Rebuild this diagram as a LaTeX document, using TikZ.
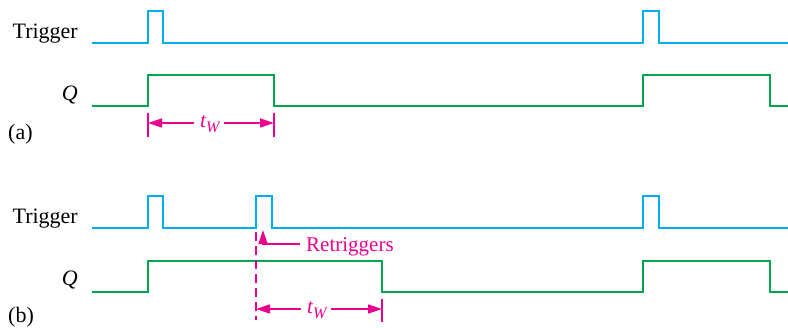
\documentclass[tikz,border=0pt]{standalone}
\usepackage{fontspec}
\setmainfont{Liberation Serif}
\usetikzlibrary{arrows.meta}
\definecolor{trigblue}{RGB}{0,174,239}
\definecolor{qgreen}{RGB}{0,163,80}
\definecolor{mag}{RGB}{236,0,140}
\begin{document}
\begin{tikzpicture}[x=1bp,y=-1bp,
  lbl/.style={inner sep=0pt,font=\fontsize{22bp}{26bp}\selectfont},
  trig/.style={draw=trigblue,line width=2.8bp,line join=miter},
  qwave/.style={draw=qgreen,line width=2.8bp,line join=miter},
  magline/.style={draw=mag,line width=1.5bp},
  magarr/.style={draw=mag,line width=1.5bp,-{Triangle[length=14bp,width=9bp]}},
  twlbl/.style={inner sep=0pt,text=mag,font=\fontsize{21bp}{25bp}\selectfont},
  dashline/.style={draw=mag,line width=1.5bp,dash pattern=on 9bp off 5bp}
]
\useasboundingbox (0,0) rectangle (788,327);
% labels
\node[lbl,anchor=base east] (trigA) at (78,38) {Trigger};
\node[lbl,anchor=base east] (qA) at (78,100) {\itshape Q};
\node[lbl,anchor=base west] (capA) at (8,139) {(a)};
\node[lbl,anchor=base east] (trigB) at (78,223) {Trigger};
\node[lbl,anchor=base east] (qB) at (78,285) {\itshape Q};
\node[lbl,anchor=base west] (capB) at (8,322) {(b)};
% waveforms (a)
\path[trig] (92,43) -| (148,11) -| (163,43) -| (643,11) -| (659,43) -- (788,43);
\path[qwave] (92,106) -| (148,75) -| (274,106) -| (643,75) -| (770,106) -- (788,106);
% waveforms (b)
\path[trig] (92,228) -| (148,196) -| (163,228) -| (256,196) -| (272,228) -| (643,196) -| (659,228) -- (788,228);
\path[qwave] (92,292) -| (148,261) -| (382,292) -| (643,261) -| (770,292) -- (788,292);
% tW (a)
\coordinate (aLt) at (148,113); \coordinate (aLb) at (148,137);
\coordinate (aRt) at (274,113); \coordinate (aRb) at (274,137);
\coordinate (aL) at (148,123); \coordinate (aR) at (274,123);
\draw[magline] (aLt) -- (aLb);
\draw[magline] (aRt) -- (aRb);
\node[twlbl,anchor=base west] (twA) at (200,127) {\itshape t\raisebox{-5bp}{\fontsize{16bp}{18bp}\selectfont W}};
\draw[magarr] ([xshift=-6bp]twA.west |- aL) -- (aL);
\draw[magarr] ([xshift=4bp]twA.east |- aR) -- (aR);
% tW (b)
\coordinate (bDt) at (256,232); \coordinate (bDb) at (256,320);
\coordinate (bRt) at (382,299); \coordinate (bRb) at (382,322);
\coordinate (bL) at (256,309); \coordinate (bR) at (382,309);
\draw[dashline] (bDt) -- (bDb);
\draw[magline] (bRt) -- (bRb);
\node[twlbl,anchor=base west] (twB) at (307,313) {\itshape t\raisebox{-5bp}{\fontsize{16bp}{18bp}\selectfont W}};
\draw[magarr] ([xshift=-6bp]twB.west |- bL) -- (bL);
\draw[magarr] ([xshift=4bp]twB.east |- bR) -- (bR);
% Retriggers
\node[twlbl,anchor=base west] (retrig) at (306,251) {Retriggers};
\coordinate (rCorner) at (263,244);
\coordinate (rTip) at (263,230);
\draw[magarr] ([xshift=-6bp]retrig.west |- rCorner) -- (rCorner) -- (rTip);
\end{tikzpicture}
\end{document}
